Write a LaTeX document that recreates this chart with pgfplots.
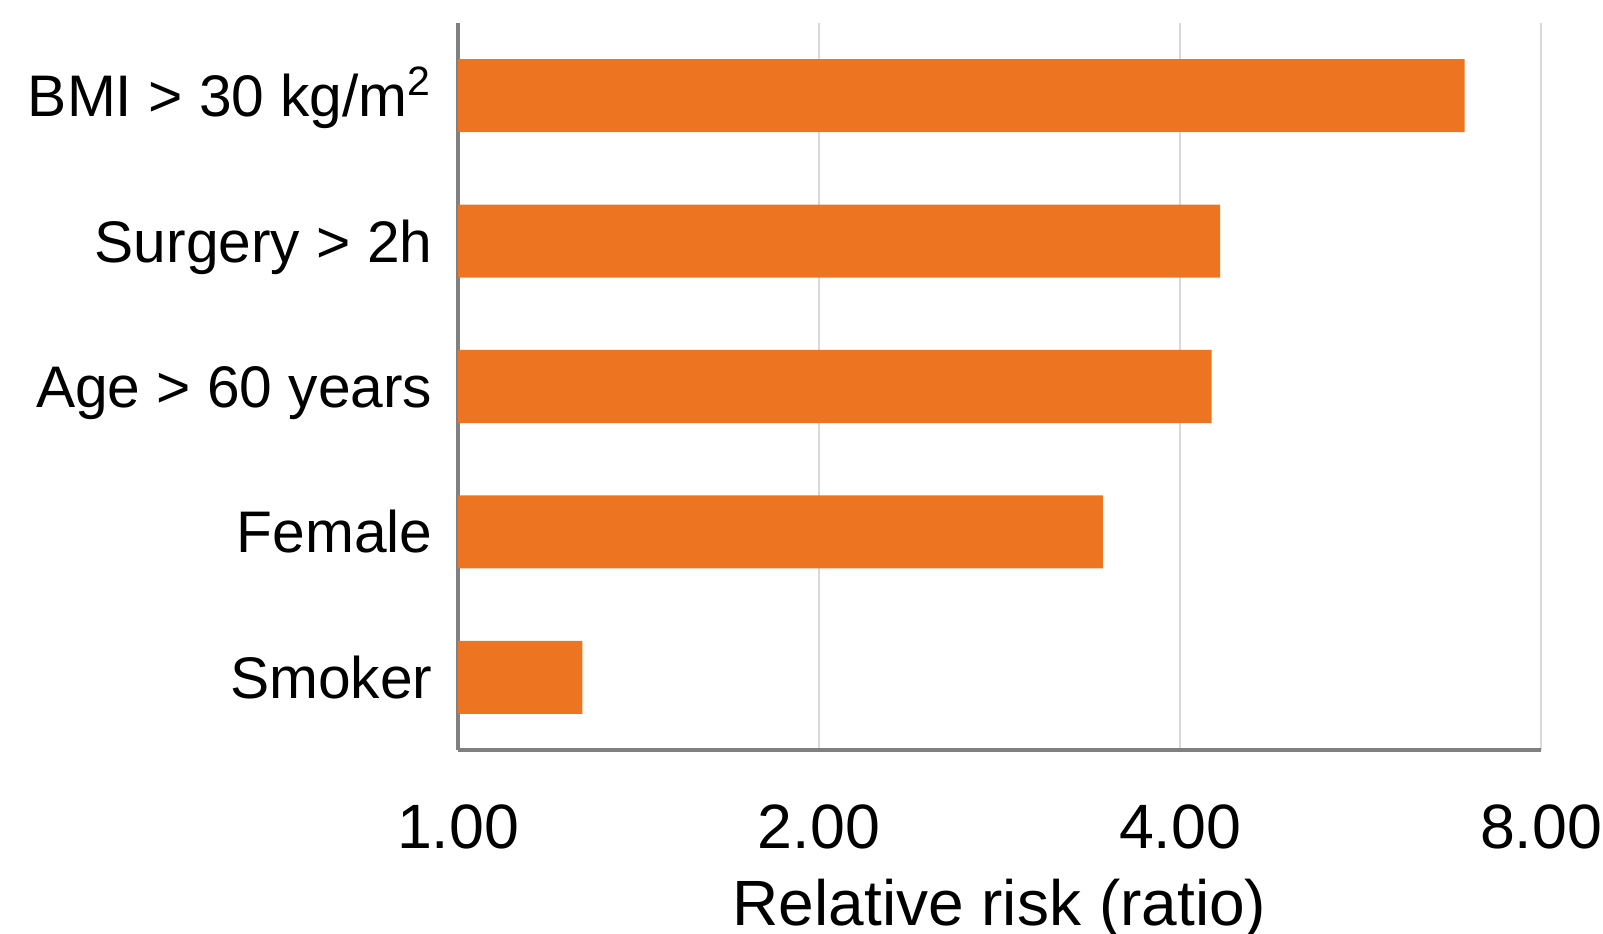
\documentclass[border=0pt]{standalone}
\usepackage{fontspec}
\setmainfont{Liberation Sans}
\usepackage{pgfplots}
\pgfplotsset{compat=1.18}
\definecolor{barorange}{RGB}{237,117,33}
\definecolor{axgray}{RGB}{128,128,128}
\definecolor{gridgray}{RGB}{217,217,217}
\begin{document}
\begin{tikzpicture}
\begin{axis}[
  scale only axis,
  width=324.9pt, height=218.1pt,
  xmode=log, log basis x=2,
  xmin=1, xmax=8,
  ymin=-0.5, ymax=4.5,
  xtick={1,2,4,8},
  xticklabels={1.00,2.00,4.00,8.00},
  ytick={0,1,2,3,4},
  yticklabels={Smoker,Female,Age > 60 years,Surgery > 2h,BMI > 30 kg/m\textsuperscript{2}},
  axis x line*=bottom, axis y line*=left,
  axis line style={draw=axgray, line width=1.3pt, -},
  major tick length=0pt,
  xmajorgrids,
  major grid style={draw=gridgray, line width=0.7pt},
  xticklabel style={font=\fontsize{18.8}{18.8}\selectfont, anchor=base, inner sep=0pt, yshift=-29.4pt},
  yticklabel style={font=\fontsize{17.6}{17.6}\selectfont, anchor=base east, inner sep=0pt, xshift=-7.5pt, yshift=-6.3pt},
  xlabel={Relative risk (ratio)},
  xlabel style={font=\fontsize{19.2}{19.2}\selectfont, at={(axis description cs:0.5,0)}, anchor=base, inner sep=0pt, yshift=-52.6pt},
  xbar, bar width=21.9pt,
  clip=false,
]
\addplot[fill=barorange, draw=none] coordinates {
  (1.27,0) (3.45,1) (4.25,2) (4.32,3) (6.91,4)
};
\coordinate (bl) at (rel axis cs:0,0);
\end{axis}
\pgfresetboundingbox
\path[use as bounding box] (bl) ++(-137.4pt,-55.2pt) rectangle ++(480.9pt,280.2pt);
\end{tikzpicture}
\end{document}
